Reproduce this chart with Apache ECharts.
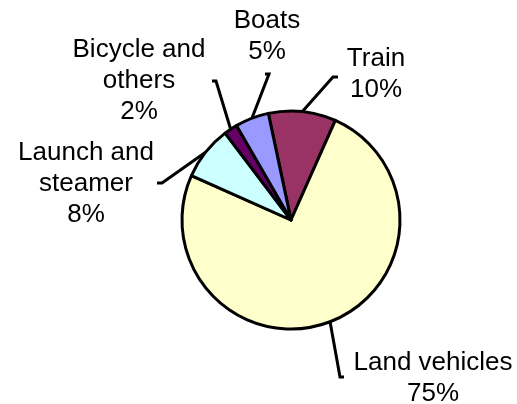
<!DOCTYPE html>
<html>
<head>
<meta charset="utf-8">
<script src="https://cdn.jsdelivr.net/npm/echarts@6/dist/echarts.min.js"></script>
<style>
  html, body { margin: 0; padding: 0; background: #fff; }
  #chart { width: 517px; height: 404px; }
</style>
</head>
<body>
<div id="chart"></div>
<script>
// slices, clockwise from the top
const categories = ['Train', 'Land vehicles', 'Launch and steamer', 'Bicycle and others', 'Boats']
const shares = [10, 75, 8, 2, 5]
const sliceColors = ['#993366', '#ffffcc', '#ccffff', '#660066', '#9999ff']

// label centre, leader elbow and stub end, by slice
const labelSpots = [
  { x: 376, y: 74, elbow: [333, 77], stub: [338, 77] },
  { x: 433, y: 378, elbow: [340, 377], stub: [344, 377] },
  { x: 86, y: 184, elbow: [162, 183], stub: [157, 183] },
  { x: 139, y: 81, elbow: [216, 81], stub: [212, 81] },
  { x: 267, y: 36, elbow: [269, 74], stub: [265, 74] }
]

const chart = echarts.init(document.getElementById('chart'))

chart.setOption({
  backgroundColor: '#fff',
  animation: false,
  series: [{
    type: 'pie',
    center: [291, 220],
    radius: 109,
    startAngle: 102,
    clockwise: true,
    avoidLabelOverlap: false,
    minShowLabelAngle: 0,
    itemStyle: {
      borderColor: '#000',
      borderWidth: 3
    },
    label: {
      show: true,
      position: 'outside',
      color: '#000',
      fontFamily: 'Liberation Sans, Arial, sans-serif',
      fontSize: 26,
      lineHeight: 31,
      align: 'center',
      formatter(p) {
        return p.name.replace(' and ', ' and\n') + '\n' + Math.round(p.percent) + '%'
      }
    },
    labelLine: {
      show: true,
      lineStyle: { color: '#000', width: 3 }
    },
    labelLayout(params) {
      const s = labelSpots[params.dataIndex]
      const pts = params.labelLinePoints
      const start = pts ? pts[0] : s.elbow
      return {
        x: s.x,
        y: s.y,
        align: 'center',
        verticalAlign: 'middle',
        labelLinePoints: [start, s.elbow, s.stub]
      }
    },
    emphasis: { disabled: true },
    data: categories.map((name, i) => ({
      name: name,
      value: shares[i],
      itemStyle: { color: sliceColors[i] }
    }))
  }]
})
</script>
</body>
</html>
